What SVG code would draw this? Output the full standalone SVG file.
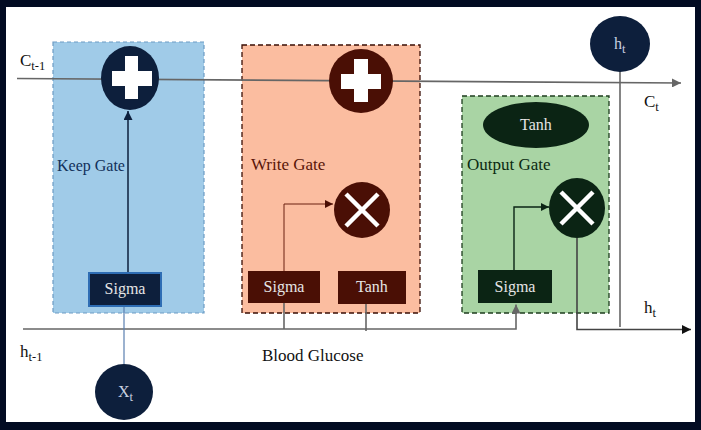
<svg xmlns="http://www.w3.org/2000/svg" width="701" height="430" viewBox="0 0 701 430" font-family="'Liberation Serif', 'DejaVu Serif', serif">
<style>
text{font-family:'Liberation Serif','DejaVu Serif',serif}
.lbl{font-size:17px;fill:#111}
.sub{font-size:12.5px}
.box{font-size:16px;fill:#e6e6e6;text-anchor:middle}
.ln{fill:none;stroke:#666;stroke-width:1.6}
.sym{fill:#fff}
.xs{stroke:#fff;stroke-width:4.5;stroke-linecap:butt}
</style>
<defs>
<marker id="ag" viewBox="0 0 10 10" refX="10" refY="5" markerWidth="9" markerHeight="9" markerUnits="userSpaceOnUse" orient="auto"><path d="M0,0L10,5L0,10Z" fill="#666"/></marker>
<marker id="an" viewBox="0 0 10 10" refX="10" refY="5" markerWidth="9" markerHeight="9" markerUnits="userSpaceOnUse" orient="auto"><path d="M0,0L10,5L0,10Z" fill="#0d1f3c"/></marker>
<marker id="am" viewBox="0 0 10 10" refX="10" refY="5" markerWidth="8" markerHeight="8" markerUnits="userSpaceOnUse" orient="auto"><path d="M0,0L10,5L0,10Z" fill="#4a0f05"/></marker>
<marker id="ad" viewBox="0 0 10 10" refX="10" refY="5" markerWidth="8" markerHeight="8" markerUnits="userSpaceOnUse" orient="auto"><path d="M0,0L10,5L0,10Z" fill="#0b2414"/></marker>
<marker id="ak" viewBox="0 0 10 10" refX="10" refY="5" markerWidth="9" markerHeight="9" markerUnits="userSpaceOnUse" orient="auto"><path d="M0,0L10,5L0,10Z" fill="#111"/></marker>
</defs>
<rect x="0" y="0" width="701" height="430" fill="#020b22"/>
<rect x="6" y="7" width="689" height="415" fill="#fff"/>

<g id="keep-gate">
<rect x="53" y="42" width="151" height="271" fill="#a0cbe8" stroke="#6d9cc4" stroke-width="1.2" stroke-dasharray="4,3"/>
<text x="57" y="171" font-size="16" fill="#12305a">Keep Gate</text>
</g>
<g id="write-gate">
<rect x="242" y="45" width="178" height="268" fill="#fbbda0" stroke="#3a0e05" stroke-width="1.3" stroke-dasharray="5,3"/>
<text x="251" y="170" font-size="17" fill="#5a1608">Write Gate</text>
</g>
<g id="output-gate">
<rect x="462" y="96" width="147" height="217" fill="#a9d4a4" stroke="#1e3d1e" stroke-width="1.3" stroke-dasharray="5,3"/>
<text x="467" y="170" font-size="17" fill="#0b2a12">Output Gate</text>
</g>

<g id="connectors">
<path class="ln" d="M17,78.5L681,83" marker-end="url(#ag)"/>
<path class="ln" d="M23,329L516,329L516,304.5" marker-end="url(#ag)"/>
<path class="ln" d="M284,303L284,329"/>
<path class="ln" d="M366,304L366,331"/>
<path d="M128,272L128,111" fill="none" stroke="#0d1f3c" stroke-width="1.5" marker-end="url(#an)"/>
<path d="M124,307L124,364" fill="none" stroke="#5a7fb0" stroke-width="1.2"/>
<path d="M284,271L284,204L333,204" fill="none" stroke="#6a2010" stroke-width="1" marker-end="url(#am)"/>
<path d="M514,270L514,207L549,207" fill="none" stroke="#0b2414" stroke-width="1.4" marker-end="url(#ad)"/>
<path class="ln" d="M620,60L620,327"/>
<path d="M577,238L577,329.5L691,329.5" fill="none" stroke="#444" stroke-width="1.6" marker-end="url(#ak)"/>
</g>

<g id="keep-plus">
<ellipse cx="130" cy="78" rx="29" ry="32" fill="#0d1f3c"/>
<rect x="112" y="71" width="40" height="15" class="sym"/>
<rect x="125" y="56" width="13" height="43" class="sym"/>
</g>
<g id="keep-sigma">
<rect x="89" y="273" width="72" height="33" fill="#0d1f3c" stroke="#2e6db4" stroke-width="2"/>
<text x="125" y="294" class="box">Sigma</text>
</g>
<g id="xt">
<ellipse cx="124" cy="392" rx="29" ry="28" fill="#0d1f3c"/>
<text x="118" y="397" font-size="16" fill="#c8d0e0">X<tspan class="sub" dy="4">t</tspan></text>
</g>

<g id="write-plus">
<ellipse cx="361" cy="81" rx="32" ry="32" fill="#4a0f05"/>
<rect x="341" y="74" width="40" height="15" class="sym"/>
<rect x="354" y="59" width="14" height="43" class="sym"/>
</g>
<g id="write-mult">
<ellipse cx="362" cy="210" rx="28" ry="28" fill="#4a0f05"/>
<path class="xs" d="M346,194L378,226M378,194L346,226"/>
</g>
<g id="write-sigma">
<rect x="248" y="271" width="72" height="32" fill="#4a0f05"/>
<text x="284" y="292" class="box">Sigma</text>
</g>
<g id="write-tanh">
<rect x="338" y="271" width="68" height="33" fill="#4a0f05"/>
<text x="372" y="292" class="box">Tanh</text>
</g>

<g id="output-tanh">
<ellipse cx="536" cy="125" rx="53" ry="23" fill="#0b2414"/>
<text x="536" y="130" class="box">Tanh</text>
</g>
<g id="output-mult">
<ellipse cx="577" cy="208" rx="28" ry="30" fill="#0b2414"/>
<path class="xs" d="M561,192L593,224M593,192L561,224"/>
</g>
<g id="output-sigma">
<rect x="478" y="270" width="74" height="33" fill="#0b2414"/>
<text x="515" y="292" class="box">Sigma</text>
</g>

<g id="ht-node">
<ellipse cx="620" cy="44" rx="30" ry="28" fill="#0d1f3c"/>
<text x="614" y="49" font-size="16" fill="#c8d0e0">h<tspan class="sub" dy="4">t</tspan></text>
</g>

<g id="labels">
<text x="20" y="66" class="lbl">C<tspan class="sub" dy="4">t-1</tspan></text>
<text x="20" y="357" class="lbl">h<tspan class="sub" dy="4">t-1</tspan></text>
<text x="262" y="361" class="lbl">Blood Glucose</text>
<text x="644" y="107" class="lbl">C<tspan class="sub" dy="4">t</tspan></text>
<text x="644" y="313" class="lbl">h<tspan class="sub" dy="4">t</tspan></text>
</g>
</svg>
